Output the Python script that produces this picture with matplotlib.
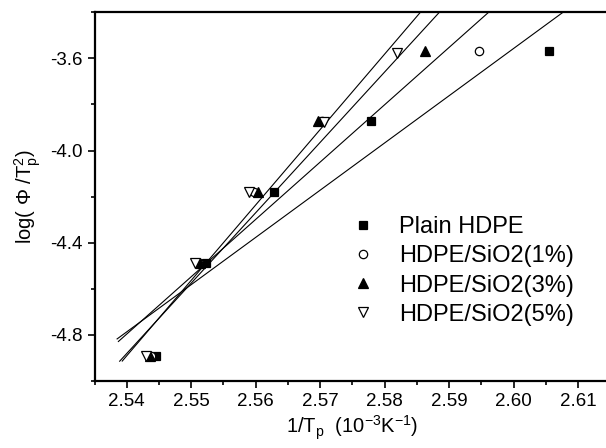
import numpy as np
import matplotlib
matplotlib.use("Agg")
import matplotlib.pyplot as plt
from matplotlib.ticker import MultipleLocator, FormatStrFormatter

plt.rcParams['font.family'] = ['Liberation Sans', 'DejaVu Sans']
plt.rcParams['mathtext.fontset'] = 'custom'
plt.rcParams['mathtext.rm'] = 'Liberation Sans'
plt.rcParams['mathtext.it'] = 'Liberation Sans'

# data
labels = ["Plain HDPE", "HDPE/SiO2(1%)", "HDPE/SiO2(3%)", "HDPE/SiO2(5%)"]
x_plain = [2.5446, 2.5523, 2.5628, 2.5779, 2.6055]
x_1 = [2.5438, 2.5512, 2.5598, 2.5703, 2.5947]
x_3 = [2.5436, 2.5514, 2.5604, 2.5697, 2.5863]
x_5 = [2.5430, 2.5506, 2.5590, 2.5706, 2.5819]
y_plain = [-4.893, -4.490, -4.180, -3.873, -3.567]
y_1 = [-4.893, -4.490, -4.180, -3.873, -3.567]
y_3 = [-4.893, -4.490, -4.180, -3.873, -3.567]
y_5 = [-4.893, -4.490, -4.180, -3.876, -3.576]
fit_start = [2.5385, 2.5387, 2.5389, 2.5393]

markers = ['s', 'o', '^', 'v']
fills = ['black', 'white', 'black', 'white']
sizes = [6, 6, 7, 7]

fig = plt.figure(figsize=(6.06, 4.48), dpi=100)
ax = fig.add_axes([0.156, 0.150, 0.851, 0.8225])

xs = [x_plain, x_1, x_3, x_5]
ys = [y_plain, y_1, y_3, y_5]
# linear fits
for i in range(4):
    k, b = np.polyfit(xs[i], ys[i], 1)
    xx = np.array([fit_start[i], 2.62])
    ax.plot(xx, k * xx + b, color='black', lw=0.8)
for i in range(4):
    ax.plot(xs[i], ys[i], linestyle='none', marker=markers[i], ms=sizes[i],
            mfc=fills[i], mec='black', mew=0.9, label=labels[i], zorder=3)

ax.set_xlim(2.535, 2.615)
ax.set_ylim(-5.0, -3.4)
ax.xaxis.set_major_locator(MultipleLocator(0.01))
ax.xaxis.set_minor_locator(MultipleLocator(0.005))
ax.yaxis.set_major_locator(MultipleLocator(0.4))
ax.yaxis.set_minor_locator(MultipleLocator(0.2))
ax.xaxis.set_major_formatter(FormatStrFormatter('%.2f'))
ax.yaxis.set_major_formatter(FormatStrFormatter('%.1f'))
ax.tick_params(which='both', direction='out', labelsize=13.5, width=1.2)
ax.tick_params(which='major', length=5)
ax.tick_params(which='minor', length=3)
for s in ['left', 'bottom', 'top']:
    ax.spines[s].set_linewidth(1.6)

ax.set_xlabel(r'1/T$_\mathregular{p}$  (10$^{\mathregular{-3}}$K$^{\mathregular{-1}}$)', fontsize=14.5, labelpad=3)
ax.set_ylabel(r'log( $\Phi$ /T$_\mathregular{p}^\mathregular{2}$)', fontsize=14.5, labelpad=5)

ax.legend(loc='center left', bbox_to_anchor=(0.497, 0.298), frameon=False,
          fontsize=17, handlelength=1.0, handletextpad=1.03, labelspacing=0.3,
          borderaxespad=0, borderpad=0)

fig.savefig("out.png", dpi=100)
